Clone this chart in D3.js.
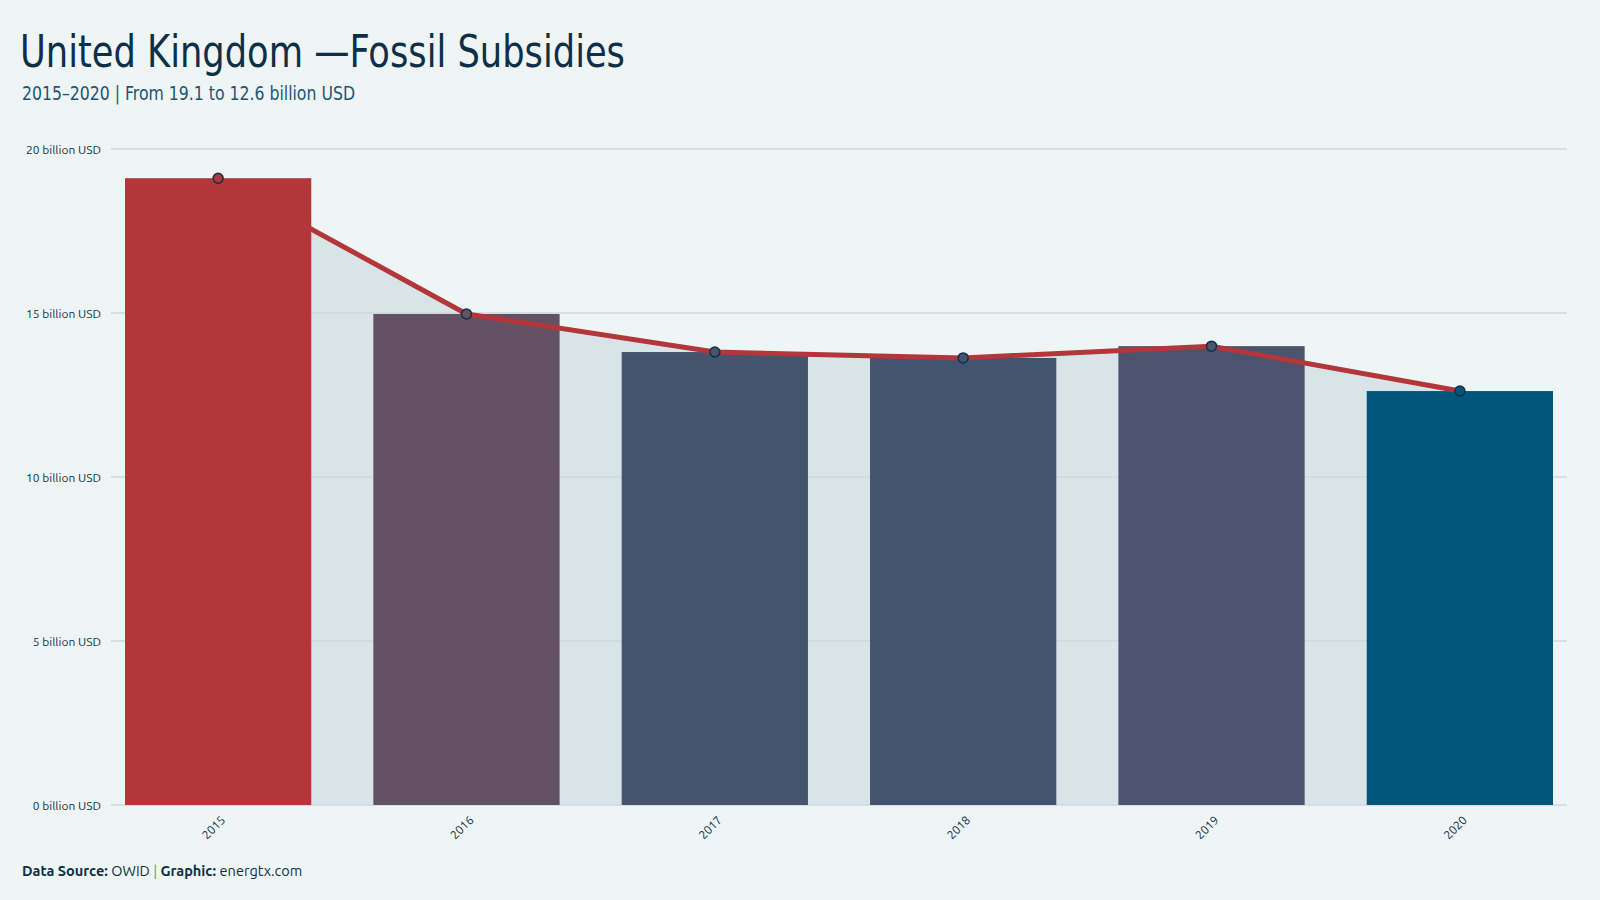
<!DOCTYPE html>
<html>
<head>
<meta charset="utf-8">
<script src="https://cdn.jsdelivr.net/npm/d3@7"></script>
<style>
  html, body { margin: 0; padding: 0; background: #eff5f5; }
  svg { display: block; }
</style>
</head>
<body>
<script>
// data
var years = ['2015', '2016', '2017', '2018', '2019', '2020'];
var subsidies = [19.11, 14.97, 13.81, 13.63, 13.99, 12.62];
var y_ticks = [0, 5, 10, 15, 20];

var title_text = 'United Kingdom \u2014Fossil Subsidies';
var subtitle_text = '2015\u20132020 | From 19.1 to 12.6 billion  USD';

var width = 1600,
    height = 900;

var margin = ({ top: 149, right: 47, bottom: 95, left: 125 });

var text_dark = '#0d3048';
var low_colour = '#00567a',
    high_colour = '#b3363a';

var rows = years.map(function(d, i) { return { year: d, value: subsidies[i] }; });

var svg = d3.select('body')
    .append('svg')
    .attr('width', width)
    .attr('height', height);

svg.append('rect')
    .attr('width', width)
    .attr('height', height)
    .attr('fill', '#eff5f5');

var x = d3.scaleBand()
    .domain(years)
    .range([margin.left, width - margin.right])
    .paddingInner(0.25)
    .paddingOuter(0);

var y = d3.scaleLinear()
    .domain([0, 20])
    .range([height - margin.bottom, margin.top]);

var colour = d3.scaleLinear()
    .domain([d3.min(subsidies), d3.max(subsidies)])
    .range([low_colour, high_colour])
    .interpolate(d3.interpolateLab);

function cx(d) { return x(d.year) + x.bandwidth() / 2; }

// shaded area under the line, behind everything
svg.append('path')
    .datum(rows)
    .attr('fill', '#d9e4e9')
    .attr('d', d3.area()
        .x(cx)
        .y0(y(0))
        .y1(function(d) { return y(d.value); }));

// gridlines
svg.append('g')
    .selectAll('line')
    .data(y_ticks)
    .enter()
    .append('line')
    .attr('x1', 111)
    .attr('x2', 1567)
    .attr('y1', function(d) { return y(d); })
    .attr('y2', function(d) { return y(d); })
    .attr('stroke', '#cfdada')
    .attr('stroke-width', 1.6);

// bars
svg.append('g')
    .selectAll('rect')
    .data(rows)
    .enter()
    .append('rect')
    .attr('x', function(d) { return x(d.year); })
    .attr('y', function(d) { return y(d.value); })
    .attr('width', x.bandwidth())
    .attr('height', function(d) { return y(0) - y(d.value); })
    .attr('fill', function(d) { return colour(d.value); });

// line + dots
svg.append('path')
    .datum(rows)
    .attr('fill', 'none')
    .attr('stroke', high_colour)
    .attr('stroke-width', 5)
    .attr('stroke-linejoin', 'round')
    .attr('d', d3.line()
        .x(cx)
        .y(function(d) { return y(d.value); }));

svg.append('g')
    .selectAll('circle')
    .data(rows)
    .enter()
    .append('circle')
    .attr('cx', cx)
    .attr('cy', function(d) { return y(d.value); })
    .attr('r', 5)
    .attr('fill', function(d) { return colour(d.value); })
    .attr('stroke', text_dark)
    .attr('stroke-width', 1.5);

// axes
var y_axis = svg.append('g')
    .attr('transform', 'translate(101,0)')
    .call(d3.axisLeft(y)
        .tickValues(y_ticks)
        .tickSize(0)
        .tickPadding(0)
        .tickFormat(function(d) { return d + ' billion USD'; }));
y_axis.select('.domain').remove();
y_axis.selectAll('text')
    .attr('dy', '0.35em')
    .style('font-family', 'Ubuntu, "Noto Sans", sans-serif')
    .style('font-size', '12px')
    .attr('fill', text_dark);

var x_axis = svg.append('g')
    .attr('transform', `translate(0, ${y(0)})`)
    .call(d3.axisBottom(x).tickSize(0).tickPadding(0));
x_axis.select('.domain').remove();
x_axis.selectAll('text')
    .attr('text-anchor', 'end')
    .attr('dy', '0.35em')
    .attr('transform', 'translate(5, 13) rotate(-45)')
    .style('font-family', 'Ubuntu, "Noto Sans", sans-serif')
    .style('font-size', '12px')
    .attr('fill', text_dark);

// titles
svg.append('text')
    .attr('x', 20)
    .attr('y', 67)
    .attr('textLength', 605)
    .attr('lengthAdjust', 'spacingAndGlyphs')
    .style('font-family', '"Liberation Sans Narrow", "DejaVu Sans Condensed", sans-serif')
    .style('font-size', '45px')
    .attr('fill', text_dark)
    .text(title_text);

svg.append('text')
    .attr('x', 22)
    .attr('y', 100)
    .attr('textLength', 333)
    .attr('lengthAdjust', 'spacingAndGlyphs')
    .style('font-family', '"Liberation Sans Narrow", "DejaVu Sans Condensed", sans-serif')
    .style('font-size', '19px')
    .attr('fill', '#1b5678')
    .text(subtitle_text);

// footer
var footer = svg.append('text')
    .attr('x', 22)
    .attr('y', 876)
    .style('font-family', 'Ubuntu, "Noto Sans", sans-serif')
    .style('font-size', '14.5px')
    .attr('fill', text_dark);
footer.append('tspan').style('font-weight', 700).text('Data  Source: ');
footer.append('tspan').text('OWID ');
footer.append('tspan').attr('fill', '#6f8fa0').text('| ');
footer.append('tspan').style('font-weight', 700).text('Graphic: ');
footer.append('tspan').text('energtx.com');
</script>
</body>
</html>
